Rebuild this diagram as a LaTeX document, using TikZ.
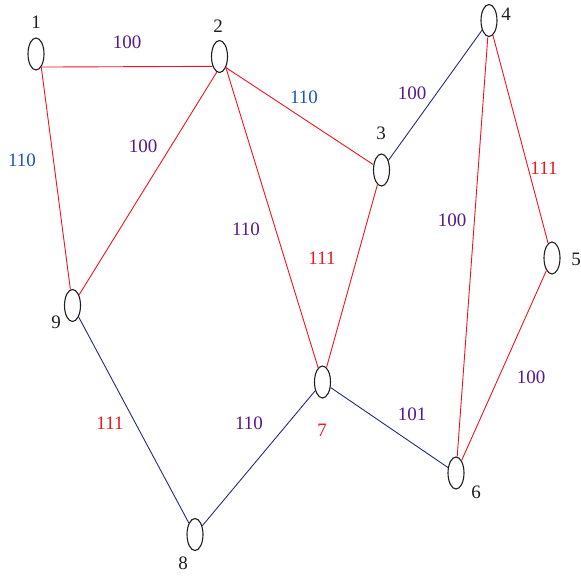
\documentclass[tikz,border=0pt]{standalone}
\usepackage{fontspec}
\setmainfont{Liberation Serif}
\usetikzlibrary{shapes.geometric}
\definecolor{ered}{RGB}{240,20,30}
\definecolor{enavy}{RGB}{35,45,115}
\definecolor{lpurple}{RGB}{85,25,145}
\definecolor{lblue}{RGB}{25,85,195}
\definecolor{lred}{RGB}{235,25,30}
\definecolor{ltxt}{RGB}{30,30,30}
\tikzset{
  vtx/.style={ellipse, draw=ltxt, line width=1.1pt, minimum width=16pt, minimum height=32pt, inner sep=0pt},
  redge/.style={draw=ered, line width=0.9pt},
  nedge/.style={draw=enavy, line width=0.9pt},
  nlab/.style={text=ltxt, font=\fontsize{19}{21}\selectfont, inner sep=0pt},
  wlab/.style={font=\fontsize{19}{21}\selectfont, inner sep=0pt},
  pl/.style={wlab, text=lpurple},
  bl/.style={wlab, text=lblue},
  rl/.style={wlab, text=lred}
}
\begin{document}
\begin{tikzpicture}[x=1pt,y=-1pt]
\useasboundingbox (0,0) rectangle (581,576);
\node[vtx] (n1) at (36,54) {};
\node[vtx] (n2) at (219.5,56.5) {};
\node[vtx] (n3) at (381.5,170) {};
\node[vtx] (n4) at (489,20.5) {};
\node[vtx] (n5) at (552,258) {};
\node[vtx] (n6) at (456,473) {};
\node[vtx] (n7) at (322.5,382) {};
\node[vtx] (n8) at (195,534.5) {};
\node[vtx] (n9) at (72.5,305.5) {};
% edges
\draw[redge] (n1.-68) -- (n2.-125);
\draw[redge] (n1.-68) -- (n9);
\draw[redge] (n2.-100) -- (n9);
\draw[redge] (n2.-60) -- (n3);
\draw[redge] (n2.-60) -- (n7);
\draw[nedge] (n3) -- (n4);
\draw[redge] (n3) -- (n7);
\draw[redge] (n4) -- (n6);
\draw[redge] (n4) -- (n5);
\draw[redge] (n5) -- (n6);
\draw[nedge] (n7) -- (n6);
\draw[nedge] (n7) -- (n8);
\draw[nedge] (n9) -- (n8);
% node labels
\node[nlab] (t1) at (36,22) {1};
\node[nlab] (t2) at (218,26) {2};
\node[nlab] (t3) at (381,133) {3};
\node[nlab] (t4) at (506,14) {4};
\node[nlab] (t5) at (576,259) {5};
\node[nlab] (t6) at (476,492) {6};
\node[rl] (t7) at (322,430) {7};
\node[nlab] (t8) at (183,563) {8};
\node[nlab] (t9) at (56,322) {9};
% edge labels
\node[pl] (w12) at (127,42) {100};
\node[bl] (w19) at (22,160) {110};
\node[pl] (w29) at (143,146) {100};
\node[bl] (w23) at (304,97) {110};
\node[pl] (w34) at (412,93) {100};
\node[pl] (w27) at (246,229) {110};
\node[rl] (w37) at (322,258) {111};
\node[pl] (w46) at (452,220) {100};
\node[rl] (w45) at (544,168) {111};
\node[pl] (w56) at (531,377) {100};
\node[pl] (w76) at (412,414) {101};
\node[pl] (w78) at (249,423) {110};
\node[rl] (w98) at (110,423) {111};
\end{tikzpicture}
\end{document}
